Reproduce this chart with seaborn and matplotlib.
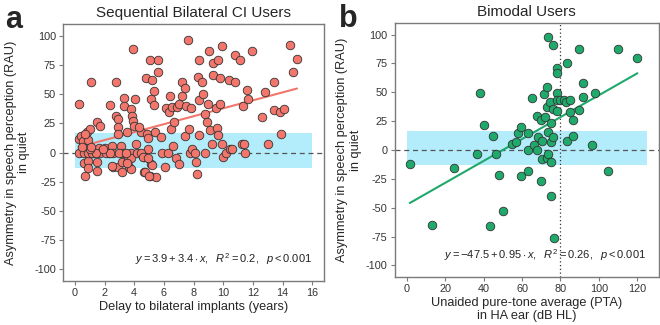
from __future__ import annotations

import matplotlib

matplotlib.use("Agg")

import matplotlib.pyplot as plt
import numpy as np
import pandas as pd
import seaborn as sns


# panel a: sequential bilateral CI users
DELAY_YEARS = [
    0.3, 1.07, 1.5, 1.7, 2.36, 2.74, 2.74, 2.88, 2.9, 2.9, 3.3, 3.3, 3.5, 3.8, 3.83, 3.9, 3.9, 4.0, 4.04, 4.44,
    4.8, 4.83, 4.94, 5.06, 5.1, 5.2, 5.3, 5.35, 5.4, 5.6, 5.6, 5.8, 6.15, 6.37, 6.42, 6.5, 6.55, 6.7, 6.9, 7.0,
    7.2, 7.2, 7.4, 7.4, 7.46, 7.6, 7.7, 7.85, 8.3, 8.35, 8.4, 8.4, 8.6, 8.64, 8.8, 8.9, 9.0, 9.05, 9.14, 9.25,
    9.3, 9.3, 9.5, 9.55, 9.66, 9.66, 9.77, 9.77, 9.9, 9.95, 10.4, 10.8, 10.8, 11.1, 11.25, 11.36, 11.4, 11.6,
    11.7, 11.97, 12.6, 12.8, 13.0, 13.45, 13.4, 13.85, 13.9, 14.1, 14.5, 14.7, 14.98,
    0.25, 0.4, 0.55, 0.3, 0.6, 0.6, 0.65, 0.9, 0.8, 1.0, 0.9, 0.9, 1.25, 1.5, 1.5, 1.6, 1.7, 2.06, 2.3, 2.5,
    2.6, 2.6, 2.9, 3.1, 3.15, 3.2, 3.2, 3.6, 3.65, 3.76, 3.8, 3.76, 4.1, 4.2, 4.67, 4.67, 4.9, 5.1, 5.06, 5.46,
    5.85, 6.1, 6.26, 6.6, 6.8, 7.05, 7.73, 7.9, 8.07, 8.14, 8.2, 8.8, 10.0, 10.2, 10.45, 10.6, 11.47,
    0.89, 1.16, 1.45, 2.07, 2.34, 2.97, 3.43, 4.45, 1.0, 1.9, 2.52, 3.54, 4.56, 4.74, 5.0, 5.2, 4.9, 0.7, 1.1,
    0.5, 4.3,
]
ASYM_BILATERAL = [
    42, 60, 26, 23, 40.6, 60, 31, 29, 22, 15.5, 47, 40, 18, 37, 31, 27, 89, 23, 45.5, 18,
    63.5, 16, 12.6, 79, 45.5, 62, 53, 40.6, 18, 79, 69, 13, 38, 35, 48, 20.6, 39, 26, 39, 41.5,
    48, 60.7, 55, 14, 40, 96.4, 20.6, 38, 65, 45, 79, 15, 60, 50, 32.6, 26, 42, 87, 19, 7,
    77, 66, 38, 21, 79, 15, 42, 63.5, 7.7, 91.6, 62, 83.5, 60.7, 79, 7, 40, 7.7, 53.5,
    45.5, 87, 30.6, 51.5, 7, 60, 36.3, 35, 15.7, 37, 92, 69, 80,
    11.4, 14, 10, 0, 0, -9, -20, 11, 18, 20, -7, -13, 0, -8, -16, 4, 0, 4, 0, 6,
    0, -12, -12, 6, 0, -8, -17, -6, -12, 0, -4.6, -14, 7, 0, -4, -17, 3.4, -10, -20, -21,
    0, -12, 0, 6, -5, -9.4, 0, 3.4, 0, -8, -18, 0, -3.7, 0, 3.4, 3.4, 0,
    0, 0, 0, 0, 0, 0, 0, 0, 3, 3, -11.3, -9.3, -3.6, -16.4, -20.1, -10.7, -5, 16, 5,
    5, 22,
]

# panel b: bimodal users
PTA_DB = [
    1.6, 13.1, 24.8, 36.4, 37.9, 40, 44.9, 46.6, 48, 43.1, 50.1, 54.8, 56.6, 58, 59.7, 59.7, 63.2, 63.2, 63.2,
    65, 66.2, 67.6, 68, 68.5, 69.7, 70.2, 69.9, 70.5, 71.5, 72, 72.8, 73.2, 73.4, 73.2, 73.4, 73.7, 74.9, 74.9,
    75.1, 74.9, 74.6, 76.3, 76.7, 76, 76, 78.1, 78.1, 78.1, 78.4, 78.4, 79.8, 81.6, 83.4, 83, 84.7, 83.4, 86.5,
    86.5, 84.7, 91.5, 91.5, 89.8, 89.8, 96.4, 98.2, 104.8, 109.9, 120,
]
ASYM_BIMODAL = [
    -12.5, -65, -16, -3.7, 49, 22, 12.5, -3.7, -22, -65.5, -53, 4.9, 6.5, 15, 19.5, -22.5, 15, 0.3, -18,
    45, 4.2, 29.4, 0, 11, 26, -8, -26.6, 8, 48.5, 28.6, 37, 54.8, 97.5, -7.1, -3.7, 15.5, -10.5, -40,
    7, 23.5, 41.5, 91, -76.6, 11.5, 35.8, 49, 43, 34, 71.4, 66.6, 43.7, 43, 75.7, 41.5, 43, 7.5, 26,
    12.5, 33, 57.7, 45.5, 87.4, 34.8, 4, 49, -18, 87.4, 79.5,
]

FIT_BILATERAL = (3.9, 3.4)
FIT_BIMODAL = (-47.5, 0.95)
BAND_LIMITS = (-13, 16.5)
Y_TICKS = [-100, -75, -50, -25, 0, 25, 50, 75, 100]

RED = "#F2766C"
GREEN = "#1FA96B"
BAND_COLOR = "#B3ECFA"
FRAME = "#7A7A7A"
YLABEL = "Asymmetry in speech perception (RAU)\nin quiet"


def style_axis(ax, xticks, xlim):
    ax.set_xlim(*xlim)
    ax.set_ylim(-110, 110)
    ax.set_xticks(xticks)
    ax.set_yticks(Y_TICKS)
    ax.set_yticklabels([str(v) for v in Y_TICKS])
    for spine in ax.spines.values():
        spine.set_visible(True)
        spine.set_color(FRAME)
        spine.set_linewidth(1.0)
    ax.tick_params(axis="both", direction="out", length=3, width=0.8, color=FRAME,
                   labelsize=7.8, labelcolor="#333333", pad=2, left=True, bottom=True)
    ax.set_ylabel(YLABEL, fontsize=9.2, labelpad=3, linespacing=1.15)


def draw_panel(ax, df, fit, color, band_right, xlim, xticks):
    ax.fill_between([0, band_right], BAND_LIMITS[0], BAND_LIMITS[1], color=BAND_COLOR, lw=0, zorder=0)
    ax.axhline(0, color="#555555", lw=0.9, ls=(0, (4, 3)), zorder=1)
    sns.scatterplot(data=df, x="x", y="y", ax=ax, color=color, edgecolor="#333333",
                    linewidth=0.6, s=38, zorder=3, legend=False)
    xs = np.array([df["x"].min(), df["x"].max()])
    ax.plot(xs, fit[0] + fit[1] * xs, color=color, lw=1.5, zorder=2)
    style_axis(ax, xticks, xlim)


def main() -> None:
    sns.set_theme(style="white")
    plt.rcParams["font.family"] = ["Liberation Sans", "DejaVu Sans"]
    plt.rcParams["mathtext.fontset"] = "custom"
    plt.rcParams["mathtext.rm"] = "Liberation Sans"
    plt.rcParams["mathtext.it"] = "Liberation Sans:italic"

    fig = plt.figure(figsize=(6.6, 3.25), dpi=100)
    ax_a = fig.add_axes([0.0955, 0.135, 0.3955, 0.791])
    ax_b = fig.add_axes([0.598, 0.148, 0.4005, 0.781])

    bilateral = pd.DataFrame({"x": DELAY_YEARS, "y": ASYM_BILATERAL})
    bimodal = pd.DataFrame({"x": PTA_DB, "y": ASYM_BIMODAL})

    draw_panel(ax_a, bilateral, FIT_BILATERAL, RED, 16, (-0.8, 16.8), list(range(0, 17, 2)))
    ax_a.set_xlabel("Delay to bilateral implants (years)", fontsize=9.2, labelpad=2)
    ax_a.set_title("Sequential Bilateral CI Users", fontsize=11, pad=5)
    ax_a.text(16, -91, r"$y = 3.9 + 3.4 \cdot x,\ \ R^2 = 0.2,\ \ p < 0.001$",
              ha="right", va="center", fontsize=8, color="#222222")

    draw_panel(ax_b, bimodal, FIT_BIMODAL, GREEN, 125, (-6.25, 131.25), list(range(0, 121, 20)))
    ax_b.axvline(80, color="#333333", lw=0.9, ls=(0, (1, 2)), zorder=1)
    ax_b.set_xlabel("Unaided pure-tone average (PTA)\nin HA ear (dB HL)", fontsize=9.2,
                    labelpad=2, linespacing=1.15)
    ax_b.set_title("Bimodal Users", fontsize=11, pad=5)
    ax_b.text(124.5, -91.5, r"$y = -47.5 + 0.95 \cdot x,\ \ R^2 = 0.26,\ \ p < 0.001$",
              ha="right", va="center", fontsize=8, color="#222222")

    fig.text(0.008, 0.915, "a", fontsize=22, fontweight="bold", va="baseline", ha="left")
    fig.text(0.513, 0.917, "b", fontsize=22, fontweight="bold", va="baseline", ha="left")

    fig.savefig("out.png", dpi=100)
    plt.close(fig)


if __name__ == "__main__":
    main()
